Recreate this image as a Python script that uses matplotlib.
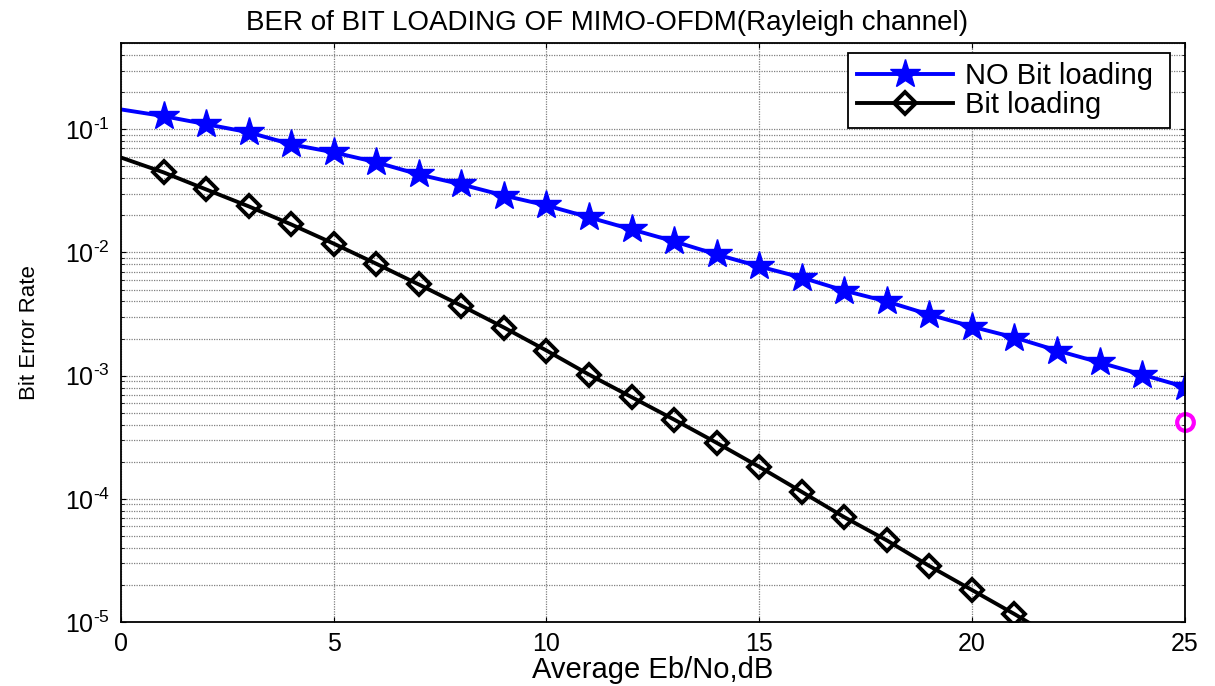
import numpy as np
import matplotlib.pyplot as plt
import matplotlib.ticker as ticker
import matplotlib as mpl

mpl.rcParams['font.family'] = ['Liberation Sans', 'DejaVu Sans']
mpl.rcParams['mathtext.fontset'] = 'custom'
mpl.rcParams['mathtext.rm'] = 'Liberation Sans'
mpl.rcParams['mathtext.it'] = 'Liberation Sans'
mpl.rcParams['axes.unicode_minus'] = False

snr_nobl = np.arange(0, 26)
ber_nobl = [0.145, 0.128, 0.110, 0.0946, 0.0755, 0.065, 0.054, 0.043, 0.0357, 0.029,
            0.0241, 0.0193, 0.0154, 0.0123, 0.00964, 0.0077, 0.00626, 0.0049, 0.0040,
            0.00313, 0.0025, 0.00204, 0.0016, 0.00128, 0.00102, 0.00081]

snr_bl = np.arange(0, 23)
ber_bl = [0.059, 0.0447, 0.0325, 0.0237, 0.0169, 0.0118, 0.0081, 0.0055, 0.0037,
          0.00246, 0.0016, 0.00102, 6.7e-4, 4.4e-4, 2.85e-4, 1.82e-4, 1.14e-4,
          7.1e-5, 4.6e-5, 2.85e-5, 1.82e-5, 1.16e-5, 7.2e-6]

extra_x = [25]
extra_y = [4.2e-4]


def logfmt(v, pos):
    e = int(round(np.log10(v)))
    # hyphen instead of the long math minus, like the matlab labels
    return '10$^{\\mathregular{%s}}$' % str(e).replace('-', '\u2010')


fig = plt.figure(figsize=(12.15, 6.86), dpi=100)
ax = fig.add_axes([0.0996, 0.0933, 0.8754, 0.8437])

ax.semilogy(snr_nobl, ber_nobl, '-', color='blue', lw=2.8, label='NO Bit loading ',
            marker='*', markersize=22, markevery=range(1, len(snr_nobl)))
ax.semilogy(snr_bl, ber_bl, '-', color='black', lw=2.8, label='Bit loading',
            marker='D', markersize=11, mfc='none', mew=2.8,
            markevery=range(1, len(snr_bl)))
ax.semilogy(extra_x, extra_y, 'o', color='magenta', mfc='none', mew=3,
            markersize=12, clip_on=False)

ax.set_xlim([0, 25])
ax.set_ylim([1e-5, 0.5])
ax.xaxis.set_major_locator(ticker.MultipleLocator(5))
ax.yaxis.set_major_locator(ticker.LogLocator(base=10, numticks=10))
ax.yaxis.set_major_formatter(ticker.FuncFormatter(logfmt))
ax.yaxis.set_minor_locator(ticker.LogLocator(base=10, subs=np.arange(2, 10), numticks=20))
ax.yaxis.set_minor_formatter(ticker.NullFormatter())
ax.grid(True, which='major', linestyle=(0, (1, 1)), color='0.5', lw=0.9)
ax.grid(True, which='minor', axis='y', linestyle=(0, (1, 1)), color='0.5', lw=0.9)
ax.tick_params(direction='in', which='both', top=True, right=True, labelsize=18)
ax.tick_params(axis='x', pad=7)
ax.tick_params(axis='y', pad=8)
for s in ax.spines.values():
    s.set_linewidth(1.3)

fig.suptitle('BER of BIT LOADING OF MIMO-OFDM(Rayleigh channel)', fontsize=20,
             x=0.5, y=0.985)
ax.set_xlabel('Average Eb/No,dB', fontsize=21, labelpad=0)
ax.set_ylabel('Bit Error Rate', fontsize=16, labelpad=18)

leg = ax.legend(loc='upper right', fontsize=21, fancybox=False, edgecolor='black',
                framealpha=1, handlelength=3.3, handletextpad=0.4, borderpad=0.3,
                labelspacing=0.05, borderaxespad=0, bbox_to_anchor=(0.986, 0.983))
leg.get_frame().set_linewidth(1.3)

fig.savefig('out.png', dpi=100)
